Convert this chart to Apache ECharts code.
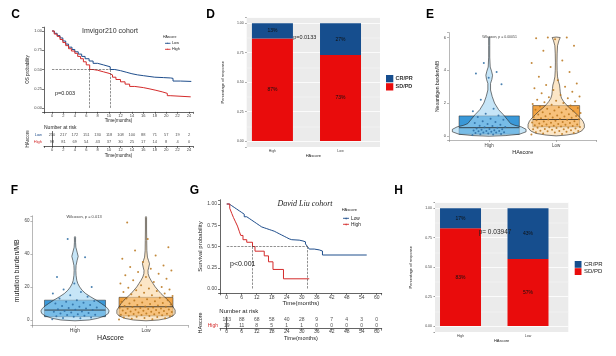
<!DOCTYPE html>
<html><head><meta charset="utf-8">
<script src="https://cdn.jsdelivr.net/npm/echarts@6/dist/echarts.min.js"></script>
<style>html,body{margin:0;padding:0;background:#fff}#c{width:616px;height:356px}</style>
</head><body><div id="c"></div>
<script>
// ---------------- DATA ----------------
// Panel C: Imvigor210 KM curves [time(months), survival]
const cLow = [[0,1],[0.4,0.97],[0.9,0.94],[1.4,0.91],[1.9,0.87],[2.4,0.83],[2.9,0.79],[3.5,0.76],[4,0.73],[4.6,0.70],[5.2,0.67],[5.8,0.64],[6.5,0.61],[7.2,0.58],[8,0.56],[9,0.535],[10.2,0.50],[11,0.485],[12,0.465],[13,0.445],[14,0.43],[15,0.42],[16,0.41],[17,0.40],[18,0.395],[19.5,0.39],[20.8,0.385],[21.2,0.35],[22.5,0.345],[24.4,0.345]];
const cHigh = [[0,1],[0.4,0.96],[0.9,0.93],[1.4,0.89],[1.9,0.85],[2.4,0.81],[2.9,0.77],[3.4,0.74],[4,0.71],[4.5,0.67],[5,0.64],[5.5,0.60],[6,0.56],[6.6,0.50],[7.2,0.49],[8,0.47],[9,0.45],[10,0.43],[10.6,0.40],[11.2,0.37],[12,0.34],[12.8,0.31],[13.6,0.28],[14.5,0.265],[16,0.25],[17,0.23],[18.2,0.21],[19.3,0.19],[20.2,0.16],[20.7,0.145],[24.3,0.145]];
const cMedian = {High: 6.6, Low: 10.2};
const cRiskTimes = [0,2,4,6,8,10,12,14,16,18,20,22,24];
const cRiskLow = [250,217,172,151,130,118,108,100,88,71,57,19,2];
const cRiskHigh = [98,81,69,54,43,37,30,25,17,14,8,4,0];

// Panel G: David Liu KM curves
const gLow = [[0,1],[1,0.98],[2,0.96],[3,0.94],[4,0.92],[5,0.90],[6,0.88],[7,0.85],[8,0.83],[9,0.81],[10,0.79],[11,0.77],[12,0.75],[13,0.73],[14,0.72],[15,0.71],[16,0.70],[17,0.69],[18,0.68],[19,0.665],[20,0.65],[21,0.635],[22,0.62],[23,0.605],[24,0.59],[25,0.58],[26,0.575],[29,0.565],[30.5,0.555],[31.5,0.53],[32.3,0.50],[33,0.47],[35,0.46],[37,0.447],[38.3,0.40],[56,0.40]];
const gHigh = [[0,1],[1.2,0.95],[2,0.89],[2.7,0.84],[3.5,0.79],[4.3,0.74],[5,0.68],[5.6,0.63],[6.5,0.58],[8,0.55],[10.3,0.50],[11.3,0.445],[15,0.39],[16.7,0.32],[18.5,0.23],[22.7,0.12],[33,0.12]];
const gMedian = {High: 10.3, Low: 32.3};
const gRiskTimes = [0,6,12,18,24,30,36,42,48,54,60];
const gRiskLow = [103,88,68,58,40,28,9,7,4,3,0];
const gRiskHigh = [19,11,8,5,1,1,0,0,0,0,0];

// Panels D and H: response proportions (High, Low)
const groups = ['High','Low'];
const dSDPD = [0.87,0.73];
const dCRPR = [0.13,0.27];
const hSDPD = [0.83,0.57];
const hCRPR = [0.17,0.43];

// Panel E: neoantigen burden/MB
const eHighPts = [0.05,0.08,0.1,0.12,0.15,0.17,0.2,0.2,0.22,0.25,0.28,0.3,0.3,0.33,0.35,0.38,0.4,0.42,0.45,0.5,0.52,0.55,0.6,0.62,0.68,0.72,0.78,0.85,0.9,0.98,1.05,1.15,1.25,1.35,1.5,1.65,2.2,3.15,3.55,3.8,3.9,4.45];
const eLowPts = [0.08,0.12,0.15,0.18,0.2,0.22,0.25,0.28,0.3,0.3,0.32,0.35,0.38,0.4,0.4,0.42,0.45,0.48,0.5,0.5,0.52,0.55,0.58,0.6,0.6,0.62,0.65,0.68,0.7,0.7,0.72,0.75,0.78,0.8,0.82,0.85,0.88,0.9,0.92,0.95,0.98,1.0,1.02,1.05,1.08,1.1,1.12,1.15,1.18,1.2,1.22,1.25,1.3,1.32,1.35,1.4,1.42,1.45,1.5,1.55,1.6,1.62,1.65,1.7,1.75,1.8,1.85,1.9,1.95,2.0,2.05,2.1,2.15,2.2,2.3,2.35,2.4,2.5,2.6,2.7,2.8,2.9,3.0,3.1,3.2,3.4,3.6,3.9,4.2,4.45,4.6,5.2,5.5,5.9,5.95,6.0,6.0];
const eBox = {High:[0.1,0.5,1.22], Low:[0.55,1.0,1.85]};
const eViolinHigh = [[-0.02,0],[0.02,0.25],[0.1,0.45],[0.25,0.55],[0.4,0.55],[0.55,0.48],[0.65,0.38],[0.75,0.32],[1.0,0.27],[1.3,0.21],[1.6,0.14],[2.0,0.08],[2.4,0.045],[2.8,0.02],[3.2,0.02],[3.45,0.04],[3.7,0.05],[3.95,0.035],[4.2,0.015],[4.8,0.008],[5.5,0.008],[6.0,0.008],[6.05,0]];
const eViolinLow = [[0.0,0],[0.05,0.15],[0.15,0.3],[0.3,0.38],[0.5,0.42],[0.7,0.42],[0.9,0.40],[1.1,0.36],[1.3,0.31],[1.5,0.26],[1.7,0.2],[1.9,0.15],[2.1,0.11],[2.3,0.08],[2.5,0.065],[2.7,0.06],[2.9,0.055],[3.1,0.05],[3.3,0.035],[3.6,0.02],[4.0,0.014],[4.5,0.012],[5.0,0.014],[5.5,0.02],[5.8,0.04],[6.0,0.06],[6.03,0]];

// Panel F: mutation burden/MB
const fHighPts = [0.5,1,1.2,1.5,2,2.2,2.5,3,3.2,3.5,4,4.2,4.5,5,5.2,5.5,6,6.2,6.5,7,7.3,7.6,8,8.5,9,9.4,10,10.5,11,11.5,12,13,14,15,16,17,18.5,20,22,26,38,49];
const fLowPts = [0.3,0.5,0.8,1,1.2,1.5,1.8,2,2.2,2.4,2.6,2.8,3,3.2,3.4,3.6,3.8,4,4.2,4.4,4.6,4.8,5,5.2,5.4,5.6,5.8,6,6.2,6.4,6.6,6.8,7,7.2,7.4,7.6,7.8,8,8.2,8.5,8.8,9,9.3,9.6,10,10.3,10.6,11,11.4,11.8,12,12.5,13,13.5,14,14.5,15,15.5,16,16.5,17,17.5,18,18.5,19,19.5,20,21,22,23,24,25,26,27,28,29,30,31,32,33,35,37,39,42,44,49,59];
const fBox = {High:[2,6,12], Low:[2.5,8,13.7]};
const fViolinHigh = [[-0.5,0],[0,0.2],[1,0.32],[2.5,0.42],[4,0.47],[5.5,0.48],[7,0.46],[8.5,0.42],[10,0.37],[12,0.3],[14,0.22],[16,0.15],[18,0.1],[20,0.065],[22,0.04],[24,0.025],[27,0.015],[30,0.012],[33,0.015],[36,0.03],[38.5,0.045],[41,0.03],[44,0.012],[47,0.008],[50,0.008],[50.5,0]];
const fViolinLow = [[-0.5,0],[0,0.18],[1,0.3],[2.5,0.38],[4,0.41],[6,0.41],[8,0.38],[10,0.35],[12,0.31],[14,0.26],[16,0.21],[18,0.17],[20,0.13],[22,0.1],[24,0.07],[26,0.045],[28,0.03],[30,0.028],[32,0.04],[34,0.05],[36,0.035],[38,0.02],[42,0.012],[48,0.01],[55,0.008],[62,0.008],[62.6,0]];

// ---------------- STYLE / HELPERS ----------------
const BLUE='#1F4E8C', RED='#D42B2B';
const BAR_BLUE='#164E8E', BAR_RED='#E90C0C';
const FONT='Liberation Sans, Arial, Helvetica, sans-serif';
function merge(a,b){const r=Object.assign({},a);for(const k in b){const v=b[k];if(v&&typeof v==='object'&&!Array.isArray(v)&&typeof v!=='function'&&a[k]&&typeof a[k]==='object'&&!Array.isArray(a[k]))r[k]=merge(a[k],v);else r[k]=v;}return r;}
function multFmt(step,dec){return v=>Math.abs(v/step-Math.round(v/step))<1e-6?v.toFixed(dec):'';}
const catFmt = v => Math.abs(v-1)<1e-6?groups[0]:(Math.abs(v-2)<1e-6?groups[1]:'');
const baseVal = {type:'value',splitLine:{show:false},
  axisLine:{show:true,onZero:false,lineStyle:{color:'#222',width:0.7}},
  axisTick:{show:true,length:2,lineStyle:{color:'#222',width:0.6}},
  axisLabel:{fontSize:4,color:'#444',margin:2,fontFamily:FONT},
  nameLocation:'middle',nameTextStyle:{fontFamily:FONT,color:'#222',fontSize:4.5}};
const ax = o => merge(baseVal,o);
function jit(i,w){return (((i*0.6180339887)%1)-0.5)*2*w;}

function violinSeries(xi, yi, profiles, boxes, boxHW, boxCols, vioCols){
  return {type:'custom', xAxisIndex:xi, yAxisIndex:yi, silent:true, z:3,
    data:[[1].concat(boxes[0]),[2].concat(boxes[1])], encode:{x:0,y:[1,2,3]},
    renderItem:(params,api)=>{
      const i=params.dataIndex, c=api.value(0), q1=api.value(1), md=api.value(2), q3=api.value(3);
      const prof=profiles[i], hw=boxHW[i];
      const p1=api.coord([c-hw,q3]), p2=api.coord([c+hw,q1]);
      const R=[],L=[];
      prof.forEach(p=>{R.push(api.coord([c+p[1],p[0]]));L.push(api.coord([c-p[1],p[0]]));});
      const pts=R.concat(L.reverse());
      const m1=api.coord([c-hw,md]), m2=api.coord([c+hw,md]);
      return {type:'group',children:[
        {type:'rect',shape:{x:p1[0],y:p1[1],width:p2[0]-p1[0],height:p2[1]-p1[1]},style:{fill:boxCols[i],stroke:'#222',lineWidth:0.5}},
        {type:'polygon',shape:{points:pts},style:{fill:vioCols[i],stroke:'#222',lineWidth:0.6}},
        {type:'line',shape:{x1:m1[0],y1:m1[1],x2:m2[0],y2:m2[1]},style:{stroke:'#222',lineWidth:0.8}}
      ]};
    }};
}
function ptsSeries(xi,yi,vals,center,w,color){
  return {type:'scatter',xAxisIndex:xi,yAxisIndex:yi,z:5,silent:true,symbolSize:2,
    itemStyle:{color:color,opacity:0.85},
    data:vals.map((v,i)=>[center+jit(i,w),v])};
}
function riskSeries(xi,yi,times,vals,grp,fs){
  return {type:'scatter',xAxisIndex:xi,yAxisIndex:yi,symbolSize:0,silent:true,
    label:{show:true,position:'inside',formatter:p=>String(p.value[2]),fontSize:fs,color:'#222',fontFamily:FONT},
    data:times.map((t,i)=>[t,grp,vals[i]])};
}
function kmLine(xi,yi,data,color,med){
  const s={type:'line',xAxisIndex:xi,yAxisIndex:yi,step:'end',symbol:'none',silent:true,
    lineStyle:{color:color,width:1},data:data,z:4};
  if(med){
    s.markLine={silent:true,symbol:['none','none'],label:{show:false},
      lineStyle:{type:'dashed',color:'#444',width:0.6},
      data:[[{coord:[0,0.5]},{coord:[med.Low,0.5]}],
            [{coord:[med.High,0.5]},{coord:[med.High,0]}],
            [{coord:[med.Low,0.5]},{coord:[med.Low,0]}]]};
  }
  return s;
}
// stacked 100% bar drawn through the axis scales: each segment [x, bottom, top]
function stackSeries(xi,yi,vals,base,color){
  return {type:'custom',xAxisIndex:xi,yAxisIndex:yi,silent:true,z:3,
    data:vals.map((v,i)=>[i+1,base[i],base[i]+v]),encode:{x:0,y:[1,2]},
    renderItem:(params,api)=>{
      const x=api.value(0), b=api.value(1), t=api.value(2);
      const pt=api.coord([x,t]), pb=api.coord([x,b]);
      const w=41;
      return {type:'group',children:[
        {type:'rect',shape:{x:pt[0]-w/2,y:pt[1],width:w,height:pb[1]-pt[1]},style:{fill:color}},
        {type:'text',x:pt[0],y:(pt[1]+pb[1])/2,style:{text:Math.round((t-b)*100)+'%',fontSize:5,fill:'#111',fontFamily:FONT,align:'center',verticalAlign:'middle'}}
      ]};
    }};
}
const riskYAxis = (gi,fs,gap,ns)=>({type:'category',gridIndex:gi,data:['High','Low'],
  axisLine:{show:true,lineStyle:{color:'#222',width:0.7}},axisTick:{show:false},
  axisLabel:{fontSize:fs,margin:2,fontFamily:FONT,color:v=>v==='Low'?BLUE:RED},
  name:'HAscore',nameLocation:'middle',nameGap:gap,nameTextStyle:{fontSize:ns,fontFamily:FONT,color:'#222'}});

const greyY = (gi)=>ax({gridIndex:gi,min:-0.05,max:1.05,minInterval:0.25,maxInterval:0.25,
  axisLine:{show:false},axisTick:{show:true,length:1.5,lineStyle:{color:'#555'}},
  axisLabel:{fontSize:3.5,margin:3,formatter:multFmt(0.25,2)},
  splitLine:{show:true,lineStyle:{color:'#fff',width:0.8}},
  minorTick:{show:false,splitNumber:2},minorSplitLine:{show:true,lineStyle:{color:'#f7f7f7',width:0.4}},
  name:'Percentage of response',nameGap:22,nameTextStyle:{fontSize:4}});
const greyX = (gi,mx)=>ax({gridIndex:gi,min:0.622,max:mx,minInterval:1,maxInterval:1,
  axisLine:{show:false},axisTick:{show:false},
  axisLabel:{fontSize:3.5,margin:2,formatter:catFmt},
  splitLine:{show:false},name:'HAscore',nameGap:6,nameTextStyle:{fontSize:4}});

// ---------------- GRAPHIC TEXT ----------------
const T=(x,y,text,fs,st)=>({type:'text',x:x,y:y,silent:true,z:100,
  style:Object.assign({text:text,fontSize:fs,fill:'#222',fontFamily:FONT,align:'center',verticalAlign:'middle'},st||{})});
const Ln=(x1,y1,x2,y2,c,w)=>({type:'line',silent:true,z:100,shape:{x1,y1,x2,y2},style:{stroke:c,lineWidth:w||1}});
const Rc=(x,y,w,h,c)=>({type:'rect',silent:true,z:100,shape:{x,y,width:w,height:h},style:{fill:c}});
const graphics=[
  T(15.7,14.5,'C',12,{fontWeight:'bold',fill:'#000'}),
  T(210.5,14.7,'D',12,{fontWeight:'bold',fill:'#000'}),
  T(430,15,'E',12,{fontWeight:'bold',fill:'#000'}),
  T(14.5,190.8,'F',12,{fontWeight:'bold',fill:'#000'}),
  T(194.3,190.8,'G',12,{fontWeight:'bold',fill:'#000'}),
  T(398.5,190.8,'H',12,{fontWeight:'bold',fill:'#000'}),
  // C
  T(110,31,'Imvigor210 cohort',7,{fill:'#333'}),
  T(163,37.5,'HAscore',3.5,{align:'left'}),
  Ln(165,43.3,170.5,43.3,BLUE,0.9),T(167.7,43.3,'+',4,{fill:BLUE}),T(172,43.3,'Low',3.8,{align:'left'}),
  Ln(165,49.3,170.5,49.3,RED,0.9),T(167.7,49.3,'+',4,{fill:RED}),T(172,49.3,'High',3.8,{align:'left'}),
  T(55,93.3,'p=0.003',5.5,{align:'left'}),
  T(44,127.3,'Number at risk',5,{align:'left'}),
  // D
  T(304.7,37.3,'p=0.0133',5.5),
  Rc(386,75,7.3,7.3,BAR_BLUE),Rc(386,83.2,7.3,7.3,BAR_RED),
  T(395.5,78.7,'CR/PR',5.5,{align:'left',fontWeight:'bold',fill:'#333'}),
  T(395.5,86.9,'SD/PD',5.5,{align:'left',fontWeight:'bold',fill:'#333'}),
  // E
  T(499.5,36.7,'Wilcoxon, p = 0.00051',3.5,{fill:'#444'}),
  // F
  T(84,216.7,'Wilcoxon, p = 0.013',4,{fill:'#444'}),
  // G
  T(305,204.3,'David Liu cohort',8,{fontFamily:'Liberation Serif, Times New Roman, serif',fontStyle:'italic',fill:'#222'}),
  T(341.7,210,'HAscore',4,{align:'left'}),
  Ln(343,218.3,349,218.3,BLUE,0.9),T(346,218.3,'+',4.5,{fill:BLUE}),T(351,218.3,'Low',4.8,{align:'left'}),
  Ln(343,224.3,349,224.3,RED,0.9),T(346,224.3,'+',4.5,{fill:RED}),T(351,224.3,'High',4.8,{align:'left'}),
  T(230,264.3,'p<0.001',7,{align:'left'}),
  T(219.3,311.7,'Number at risk',6,{align:'left'}),
  // H
  T(495,232.7,'p= 0.03947',6.5),
  Rc(574.7,261,6.8,6.8,BAR_BLUE),Rc(574.7,268.2,6.8,6.8,BAR_RED),
  T(584,264.4,'CR/PR',6,{align:'left',fill:'#222'}),
  T(584,271.6,'SD/PD',6,{align:'left',fill:'#222'})
];

// ---------------- OPTION ----------------
const option={
  animation:false,backgroundColor:'#fff',
  textStyle:{fontFamily:FONT},
  grid:[
    {left:44,top:27.15,width:149,height:84.7},                // 0 C KM
    {left:44,top:131.5,width:149,height:14.5},                // 1 C risk
    {left:246.7,top:17.4,width:133.3,height:129.5,show:true,backgroundColor:'#EBEBEB',borderWidth:0}, // 2 D
    {left:449,top:32.6,width:147.4,height:107.4},             // 3 E
    {left:32.4,top:215.8,width:156.2,height:109.9},           // 4 F
    {left:220,top:199.75,width:161.7,height:93.5},            // 5 G KM
    {left:220,top:317.2,width:161.7,height:11.4},             // 6 G risk
    {left:435,top:202.4,width:133.3,height:129.5,show:true,backgroundColor:'#EBEBEB',borderWidth:0}  // 7 H
  ],
  xAxis:[
    ax({gridIndex:0,min:-1.4,max:24.7,minInterval:2,maxInterval:2,axisLabel:{formatter:multFmt(2,0)},name:'Time(months)',nameGap:6}),
    ax({gridIndex:1,min:-1.4,max:24.7,minInterval:2,maxInterval:2,axisLabel:{formatter:multFmt(2,0)},name:'Time(months)',nameGap:6}),
    greyX(2,2.58),
    ax({gridIndex:3,min:0.4,max:2.6,minInterval:1,maxInterval:1,axisLine:{lineStyle:{color:'#888',width:0.6}},axisTick:{lineStyle:{color:'#888'}},axisLabel:{fontSize:4.5,margin:3,formatter:catFmt},name:'HAscore',nameGap:9,nameTextStyle:{fontSize:5.5}}),
    ax({gridIndex:4,min:0.4,max:2.6,minInterval:1,maxInterval:1,axisLine:{lineStyle:{color:'#888',width:0.6}},axisTick:{lineStyle:{color:'#888'}},axisLabel:{fontSize:5,margin:2.5,formatter:catFmt},name:'HAscore',nameGap:8,nameTextStyle:{fontSize:7}}),
    ax({gridIndex:5,min:-2.7,max:62,minInterval:6,maxInterval:6,axisLabel:{fontSize:5,margin:1.5,formatter:multFmt(6,0)},name:'Time(months)',nameGap:7,nameTextStyle:{fontSize:6}}),
    ax({gridIndex:6,min:-2.7,max:62,minInterval:6,maxInterval:6,axisLabel:{fontSize:5,margin:1,formatter:multFmt(6,0)},name:'Time(months)',nameGap:6.5,nameTextStyle:{fontSize:5.5}}),
    greyX(7,2.597)
  ],
  yAxis:[
    ax({gridIndex:0,min:-0.05,max:1.05,minInterval:0.25,maxInterval:0.25,axisLabel:{formatter:multFmt(0.25,2)},name:'OS probability',nameGap:11}),
    riskYAxis(1,4,11,4.5),
    greyY(2),
    ax({gridIndex:3,min:-0.25,max:6.3,minInterval:2,maxInterval:2,axisLine:{lineStyle:{color:'#888',width:0.6}},axisTick:{lineStyle:{color:'#888'}},axisLabel:{fontSize:4,margin:3,formatter:multFmt(2,0)},name:'Neoantigen burden/MB',nameGap:8,nameTextStyle:{fontSize:5}}),
    ax({gridIndex:4,min:-3.45,max:63,minInterval:20,maxInterval:20,axisLine:{lineStyle:{color:'#888',width:0.6}},axisTick:{lineStyle:{color:'#888'}},axisLabel:{fontSize:4.5,margin:3,formatter:multFmt(20,0)},name:'mutation burden/MB',nameGap:10,nameTextStyle:{fontSize:7}}),
    ax({gridIndex:5,min:-0.05,max:1.05,minInterval:0.25,maxInterval:0.25,axisLabel:{fontSize:5,margin:3,formatter:multFmt(0.25,2)},name:'Survival probability',nameGap:15,nameTextStyle:{fontSize:6}}),
    riskYAxis(6,5,14,5.5),
    greyY(7)
  ],
  series:[
    kmLine(0,0,cLow,BLUE,null),
    kmLine(0,0,cHigh,RED,cMedian),
    riskSeries(1,1,cRiskTimes,cRiskLow,'Low',4),
    riskSeries(1,1,cRiskTimes,cRiskHigh,'High',4),
    stackSeries(2,2,dSDPD,[0,0],BAR_RED),
    stackSeries(2,2,dCRPR,dSDPD,BAR_BLUE),
    violinSeries(3,3,[eViolinHigh,eViolinLow],[eBox.High,eBox.Low],[0.45,0.35],['#3A98D8','#F2A444'],['rgba(160,212,242,0.6)','rgba(250,214,160,0.6)']),
    ptsSeries(3,3,eHighPts,1,0.25,'#2B6CA3'),
    ptsSeries(3,3,eLowPts,2,0.37,'#B8741A'),
    violinSeries(4,4,[fViolinHigh,fViolinLow],[fBox.High,fBox.Low],[0.43,0.38],['#3A98D8','#F2A444'],['rgba(160,212,242,0.6)','rgba(250,214,160,0.6)']),
    ptsSeries(4,4,fHighPts,1,0.32,'#2B6CA3'),
    ptsSeries(4,4,fLowPts,2,0.38,'#B8741A'),
    kmLine(5,5,gLow,BLUE,null),
    kmLine(5,5,gHigh,RED,gMedian),
    riskSeries(6,6,gRiskTimes,gRiskLow,'Low',5),
    riskSeries(6,6,gRiskTimes,gRiskHigh,'High',5),
    stackSeries(7,7,hSDPD,[0,0],BAR_RED),
    stackSeries(7,7,hCRPR,hSDPD,BAR_BLUE)
  ],
  graphic:graphics
};
const chart=echarts.init(document.getElementById('c'),null,{renderer:'canvas'});
chart.setOption(option);
</script>
</body></html>
